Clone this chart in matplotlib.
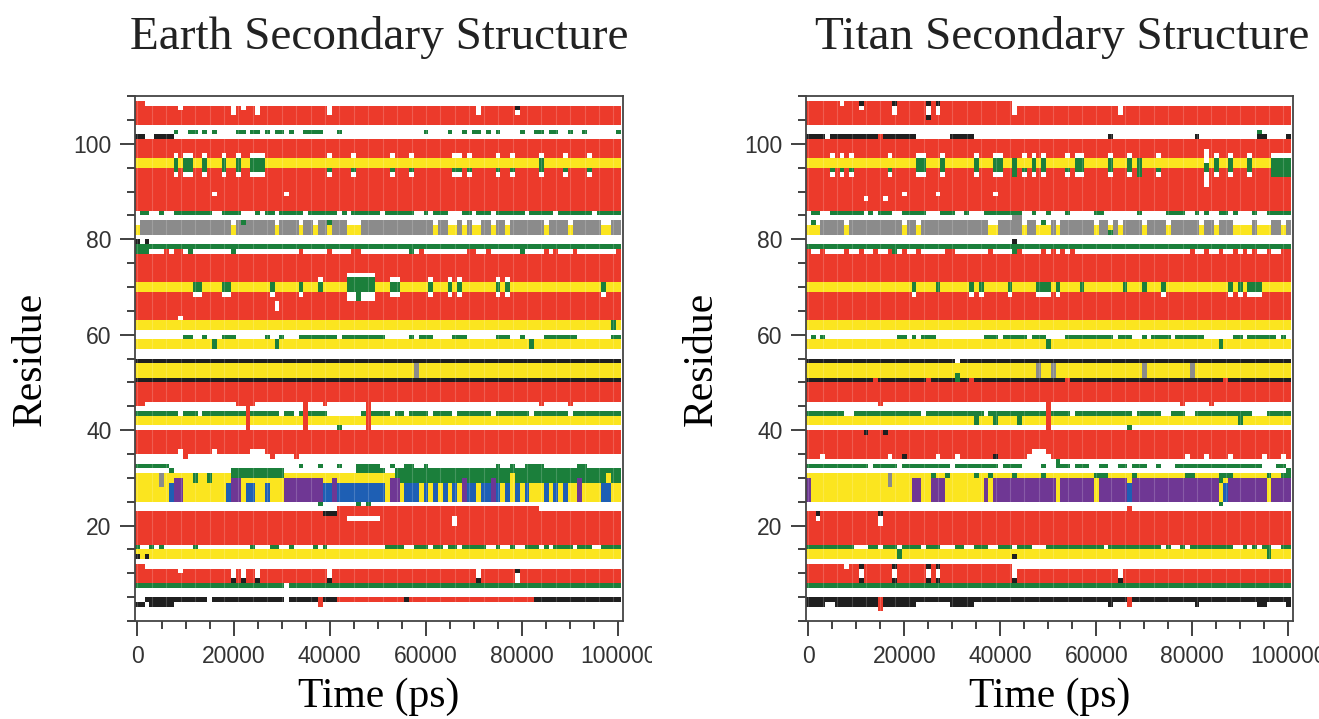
import matplotlib
matplotlib.use("Agg")
import matplotlib.pyplot as plt
import numpy as np
from matplotlib.colors import ListedColormap
from matplotlib.ticker import MultipleLocator
from matplotlib.transforms import Bbox, TransformedBbox

# time axis: one frame every 1000 ps, 0..100000 ps
FRAME_STEP_PS = 1000
N_FRAMES = 101
N_RESIDUE_ROWS = 110

STATES = ["C", "H", "E", "T", "B", "G", "I", "P"]
STATE_COLORS = ["#ffffff", "#ec3a2b", "#fbe51f", "#1b7f3b",
                "#1f1f1f", "#8b8b8b", "#1e5fb4", "#6f3794"]

X_TICKS = [0, 20000, 40000, 60000, 80000, 100000]
Y_TICKS = [20, 40, 60, 80, 100]
PANEL_TITLES = ["Earth Secondary Structure", "Titan Secondary Structure"]

# (first row, last row, state) -- state held over the whole run
EARTH_BANDS = [
    (104, 107, "H"), (86, 100, "H"), (95, 96, "E"), (81, 82, "E"), (78, 78, "T"),
    (71, 76, "H"), (69, 70, "E"), (63, 68, "H"), (61, 62, "E"), (57, 58, "E"),
    (54, 54, "B"), (51, 53, "E"), (50, 50, "B"), (46, 49, "H"), (41, 42, "E"),
    (35, 39, "H"), (25, 30, "E"), (16, 22, "H"), (13, 14, "E"), (8, 10, "H"),
    (7, 7, "T"), (4, 4, "B"),
]

# (first row, last row, state, frames) -- later entries paint over earlier ones
EARTH_PATCHES = [
    (108, 108, "H", "0-1"),
    (107, 107, "C", "9,22"),
    (106, 107, "C", "20,25,40,71,79"),
    (107, 107, "B", "79"),
    (102, 102, "T", "8,11-12,14,16,21-22,24-25,27,29-30,32,35-38,42,60,65,68,70-71,73,75,80,83-84,86-87,90,93,100"),
    (101, 101, "B", "0-1,4-7"),
    (93, 93, "C", "8,10-11,14,18,21,24-26,40,45,53,57,66-67,69,75,78,84,89,94"),
    (97, 97, "C", "8,10-11,14,18,21,24-26,40,45,53,57,66-67,69,75,78,84,89,94"),
    (94, 94, "T", "8,10-11,14,18,21,24-26,40,45,53,57,66-67,69,75,78,84,89,94"),
    (95, 96, "T", "8,10-11,14,18,21,24-26,84"),
    (89, 89, "C", "16,31"),
    (85, 85, "T", "1-2,5,8-15,18-21,25,27-28,30-34,36-41,43,45-50,52-57,60,62-64,68-69,71-73,75-80,82-86,88-94,96-100"),
    (81, 83, "G", "1-19,21-28,30-33,35-36,38-39,41-43,47-61,63-64,67,69,72-73,75-76,78-84,86-89,91-96,99-100"),
    (83, 83, "T", "22,40"),
    (79, 79, "B", "0,2"),
    (77, 77, "H", "6,8-9,34,40,45-46,59,69-70,73,85,87,91,100"),
    (77, 77, "T", "0-2,11,20,57,80"),
    (69, 70, "T", "12-13,18-19,28,34,38,44-49,53-54,61,65,67,75,77,97"),
    (68, 68, "C", "12-13,18-19,28,34,44-49,53-54,61,65,67,75,77,97"),
    (71, 71, "C", "38,53-54,61,65,67,75,77"),
    (71, 71, "T", "44-49"),
    (72, 72, "C", "44-49"),
    (67, 67, "C", "44-49"),
    (67, 68, "T", "46"),
    (65, 66, "C", "29"),
    (63, 63, "C", "9"),
    (61, 62, "T", "99"),
    (59, 59, "T", "10-11,14,18-20,27,30,34-41,43-51,57,59-61,66-68,75-77,80,85-91,99-100"),
    (57, 58, "T", "16,29,82"),
    (51, 53, "G", "58"),
    (45, 45, "H", "0-1,21-24,39,84,90"),
    (43, 43, "T", "0-8,10-12,14-22,24-29,31-32,34,36-39,47,49-52,54-55,57-60,62-65,67-73,75-81,83-89,91-100"),
    (40, 40, "T", "42"),
    (40, 45, "H", "23,35,48"),
    (34, 34, "H", "10,28,33"),
    (35, 35, "C", "9,16,24-26"),
    (32, 32, "T", "0-6,34,38,42,46-50,53,56-57,60,75,78,81-84,92-93"),
    (31, 31, "T", "7,46-51"),
    (30, 31, "T", "20-30"),
    (29, 30, "T", "12,15"),
    (29, 31, "T", "54-100"),
    (29, 30, "E", "78,98"),
    (28, 30, "G", "5"),
    (25, 29, "P", "8-9,20-21,31-38,41,53-54,68,74,92"),
    (25, 28, "I", "7,19,23-24,27,39-40,42-51,56-58,60,62,64,66,69-70,72-73,75,77,79,81,85,87,89,97-98"),
    (24, 24, "T", "38,46,48"),
    (23, 23, "H", "42-83"),
    (22, 22, "B", "39-41"),
    (21, 21, "C", "44-50"),
    (20, 21, "C", "66"),
    (15, 15, "T", "0,3,5,12,24,28-29,32,37,39,52-55,58-60,62-63,65-66,68-72,75,78,81-83,85,87-90,92-94,97-100"),
    (13, 13, "B", "0,2"),
    (11, 11, "H", "0-1"),
    (10, 10, "C", "9"),
    (9, 10, "C", "20,22,25,40,71"),
    (8, 8, "B", "20,22,25,40,71"),
    (8, 9, "C", "79"),
    (10, 10, "B", "79"),
    (7, 7, "C", "31"),
    (4, 4, "C", "0-1,15,31"),
    (3, 3, "B", "0-1,3-7"),
    (4, 4, "H", "42-55,57-82"),
    (3, 4, "H", "38"),
]

TITAN_BANDS = [
    (104, 107, "H"), (86, 100, "H"), (95, 96, "E"), (81, 82, "E"), (78, 78, "T"),
    (71, 76, "H"), (69, 70, "E"), (63, 68, "H"), (61, 62, "E"), (57, 58, "E"),
    (54, 54, "B"), (51, 53, "E"), (50, 50, "B"), (46, 49, "H"), (41, 42, "E"),
    (34, 39, "H"), (25, 30, "E"), (16, 22, "H"), (13, 14, "E"), (8, 10, "H"),
    (7, 7, "T"), (4, 4, "B"),
]

TITAN_PATCHES = [
    (108, 108, "H", "0-42"),
    (108, 108, "C", "7"),
    (108, 108, "B", "11,18,25,27"),
    (107, 107, "C", "11,18,25,27"),
    (106, 106, "C", "18,25,27"),
    (105, 105, "B", "25"),
    (106, 107, "C", "43,65"),
    (101, 101, "B", "0-3,5-14,16-22,30-34,63,81,94-95,100"),
    (101, 101, "H", "15"),
    (102, 102, "T", "94"),
    (93, 93, "C", "5,7,9,17,23-24,28,35,39-40,45,47,49,54,56-57,63,67,73,85,88,92"),
    (97, 97, "C", "5,7,9,17,23-24,28,35,39-40,45,47,49,54,56-57,63,67,73,85,88,92,97-100"),
    (94, 94, "T", "5,7,9,17,45,54,73"),
    (94, 96, "T", "23-24,28,35,39-40,47,49,56-57,63,67,85,88,92"),
    (93, 96, "T", "43,69,97-100"),
    (91, 98, "C", "83"),
    (94, 95, "T", "83"),
    (88, 88, "C", "12,16"),
    (89, 89, "C", "20,27,39"),
    (85, 85, "T", "1-2,5-11,13,15-17,20-24,28-30,33,37-44,47,50,54,60-61,69,75-78,81,83,86-87,89,93,96-100"),
    (81, 83, "G", "3-7,9-19,21-22,24-37,40-44,46-47,51,53-59,61-62,64,66-69,71-74,76-81,83-84,86-88,93,97-98,100"),
    (84, 84, "G", "43-44"),
    (83, 83, "T", "1,49"),
    (81, 81, "T", "63"),
    (79, 79, "B", "43"),
    (77, 77, "H", "0,3,8,11,14,17,20,23,29-30,38,44,49,51,53,55,80,83,86,89,91,93,96,99-100"),
    (77, 77, "T", "18,43"),
    (69, 70, "T", "22,27,34,36,42,48-50,52,57,66,70,74,88,90,92-94"),
    (68, 68, "C", "22,34,36,42,48-50,52,74,88,90,92-94"),
    (59, 59, "T", "1,3,19-20,22,24-26,37-39,41-45,47-49,54-63,65-67,70,72-75,77-82,89-90,92-97,99"),
    (57, 58, "T", "50,86"),
    (54, 54, "C", "31"),
    (51, 53, "G", "48,51,70,80"),
    (50, 51, "T", "31"),
    (50, 50, "H", "14,25,34,54,87"),
    (45, 45, "H", "15,78,84"),
    (43, 43, "T", "0-7,10-23,25-36,38-49,51-54,56-67,69-73,76-78,81-92,96-100"),
    (41, 42, "T", "35,39,44,90"),
    (40, 40, "T", "67"),
    (40, 45, "H", "50"),
    (39, 39, "B", "12,16"),
    (34, 34, "C", "3,17,27,31,46-50,79,83,88,95,99"),
    (35, 35, "C", "47-49"),
    (34, 34, "B", "20,39"),
    (32, 32, "T", "0-12,14-18,20-29,31-39,41-44,49,52-54,56-58,61-62,65-66,68-70,73,77-94,98-99"),
    (33, 33, "T", "52"),
    (31, 31, "T", "100"),
    (30, 30, "T", "29,35,38,43,49,60-62,68,79-80,86-88,96,99-100"),
    (29, 30, "T", "26"),
    (28, 30, "G", "17"),
    (25, 29, "P", "0,22-23,26-28,37,39-51,53-59,61-66,68-85,88-95,97-100"),
    (25, 28, "I", "67,87"),
    (29, 29, "T", "86"),
    (24, 24, "T", "86"),
    (23, 23, "H", "67"),
    (22, 22, "B", "2,15"),
    (21, 21, "C", "2"),
    (20, 21, "C", "15"),
    (15, 15, "T", "0-9,13-14,16-18,20-23,25-27,31-32,35-37,40-42,44-46,50-61,63-73,75,78,80-88,91,93,95-96,99-100"),
    (13, 14, "T", "19,96"),
    (13, 13, "B", "43"),
    (11, 11, "H", "0-42"),
    (11, 11, "C", "8"),
    (11, 11, "B", "11,18,25,27"),
    (9, 10, "C", "11,18,25,27,43,65"),
    (8, 8, "B", "11,18,25,27,43,65"),
    (3, 3, "B", "0-3,6-22,30-34,63,81,94-95,100"),
    (2, 4, "H", "15"),
    (3, 4, "H", "67"),
]


def frame_list(spec):
    """'3,5-7' -> [3, 5, 6, 7]"""
    out = []
    for part in spec.split(","):
        if "-" in part:
            a, b = part.split("-")
            out.extend(range(int(a), int(b) + 1))
        else:
            out.append(int(part))
    return out


def build_grid(bands, patches):
    grid = np.zeros((N_RESIDUE_ROWS, N_FRAMES), dtype=int)
    for lo, hi, state in bands:
        grid[lo:hi + 1, :] = STATES.index(state)
    for lo, hi, state, frames in patches:
        grid[lo:hi + 1, frame_list(frames)] = STATES.index(state)
    return grid


def draw_panel(fig, ax, grid, title, title_x):
    cmap = ListedColormap(STATE_COLORS)
    t_edges = (np.arange(N_FRAMES + 1) - 0.5) * FRAME_STEP_PS
    r_edges = np.arange(N_RESIDUE_ROWS + 1)
    ax.pcolormesh(t_edges, r_edges, grid, cmap=cmap, vmin=-0.5,
                  vmax=len(STATES) - 0.5, shading="flat")
    # faint frame seams seen in the original rendering
    ax.vlines(np.arange(0, N_FRAMES * FRAME_STEP_PS, 3 * FRAME_STEP_PS), 0, N_RESIDUE_ROWS,
              colors="white", alpha=0.18, lw=0.8)

    ax.set_xlim(-500, 101000)
    ax.set_ylim(0, 110)
    ax.set_xticks(X_TICKS)
    ax.set_yticks(Y_TICKS)
    ax.xaxis.set_minor_locator(MultipleLocator(5000))
    ax.yaxis.set_minor_locator(MultipleLocator(5))
    ax.tick_params(which="major", direction="out", length=11, width=1.3,
                   color="#333333", labelcolor="#333333", labelsize=16.5, pad=6)
    ax.tick_params(which="minor", direction="out", length=6, width=1.3, color="#333333")
    for lab in ax.get_xticklabels() + ax.get_yticklabels():
        lab.set_family("Liberation Sans")
    for sp in ax.spines.values():
        sp.set_linewidth(1.3)
        sp.set_color("#444444")

    ax.set_xlabel("Time (ps)", family="Liberation Serif", fontsize=30, labelpad=7)
    ax.set_ylabel("Residue", family="Liberation Serif", fontsize=30, labelpad=17)
    ax.set_title(title, family="Liberation Serif", fontsize=34, pad=34,
                 color="#222222", x=title_x)


def main():
    fig = plt.figure(figsize=(13.19, 7.19), dpi=100)
    ax_e = fig.add_axes([0.1024, 0.1363, 0.370, 0.730])
    ax_t = fig.add_axes([0.6111, 0.1363, 0.3692, 0.730])

    draw_panel(fig, ax_e, build_grid(EARTH_BANDS, EARTH_PATCHES), PANEL_TITLES[0], 0.5)
    draw_panel(fig, ax_t, build_grid(TITAN_BANDS, TITAN_PATCHES), PANEL_TITLES[1], 0.525)

    # the left panel's last tick label is cut where the right image begins
    clip = TransformedBbox(Bbox([[0, 0], [652 / 1319, 1]]), fig.transFigure)
    for lab in ax_e.get_xticklabels():
        lab.set_clip_box(clip)
        lab.set_clip_on(True)

    fig.savefig("out.png", dpi=100, facecolor="white")
    plt.close(fig)


if __name__ == "__main__":
    main()
